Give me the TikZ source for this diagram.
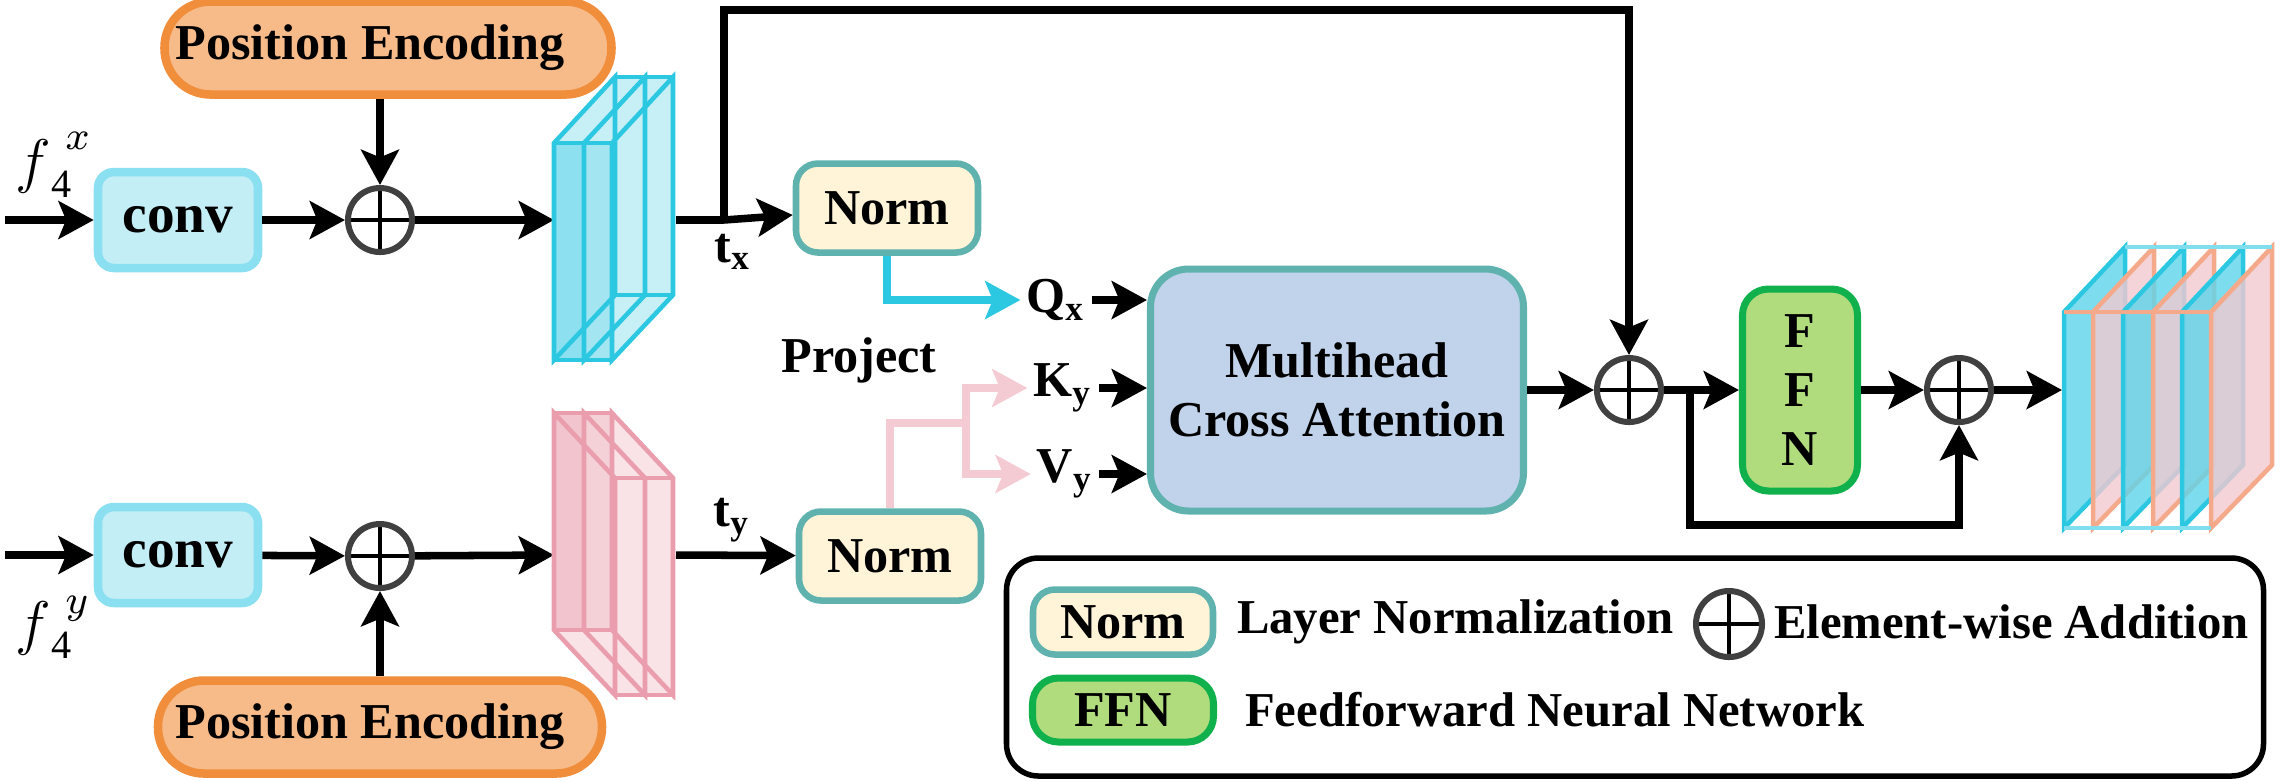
\documentclass[tikz,border=0pt]{standalone}
\usepackage{fontspec}
\setmainfont{Liberation Serif}
\usetikzlibrary{arrows.meta,positioning,calc}

\newcommand{\pxl}{0.07mm}

\definecolor{convfill}{HTML}{C3EEF6}
\definecolor{convline}{HTML}{8ADFF0}
\definecolor{pefill}{HTML}{F7BA89}
\definecolor{peline}{HTML}{F08E3C}
\definecolor{normfill}{HTML}{FFF4D8}
\definecolor{tealline}{HTML}{5FB2AE}
\definecolor{mcafill}{HTML}{C1D2EB}
\definecolor{ffnfill}{HTML}{B0DC7D}
\definecolor{ffnline}{HTML}{10B04C}
\definecolor{cyanline}{HTML}{2CC8E2}
\definecolor{cyandark}{HTML}{8DE0EF}
\definecolor{cyanmid}{HTML}{A3E6F2}
\definecolor{cyanlight}{HTML}{C6EFF6}
\definecolor{pinkline}{HTML}{E99DAD}
\definecolor{pinkdark}{HTML}{F2C5CE}
\definecolor{pinkmid}{HTML}{F4D0D7}
\definecolor{pinklight}{HTML}{F9E3E7}
\definecolor{pinkarrow}{HTML}{F4CBD3}
\definecolor{salmon}{HTML}{F4A98A}
\definecolor{sheetcyan}{HTML}{5DD5EA}
\definecolor{sheetpink}{HTML}{F3C9D0}

\begin{document}
\begin{tikzpicture}[x=0.07mm, y=-0.07mm,
  txt/.style={font=\fontsize{10}{11.8}\selectfont\bfseries, inner sep=1pt},
  legtxt/.style={font=\fontsize{9.7}{11.6}\selectfont\bfseries, inner sep=1pt, anchor=west},
  box/.style={txt, draw, line width=1.4pt, inner sep=0pt, align=center},
  convbox/.style={box, font=\fontsize{11}{13}\selectfont\bfseries, draw=convline, fill=convfill, line width=1.7pt, rounded corners=16*\pxl, minimum width=160*\pxl, minimum height=96*\pxl},
  pebox/.style={box, draw=peline, fill=pefill, line width=1.7pt, rounded corners=46*\pxl, minimum width=447*\pxl, minimum height=93*\pxl},
  normbox/.style={box, draw=tealline, fill=normfill, line width=1.3pt, rounded corners=22*\pxl, minimum width=182*\pxl, minimum height=89*\pxl},
  mcabox/.style={box, draw=tealline, fill=mcafill, rounded corners=38*\pxl, minimum width=373*\pxl, minimum height=242*\pxl},
  ffnbox/.style={box, draw=ffnline, fill=ffnfill, rounded corners=26*\pxl, minimum width=115*\pxl, minimum height=202*\pxl},
  addop/.style={circle, draw=black!75, line width=1.2pt, minimum size=64*\pxl, inner sep=0pt,
    path picture={\draw[black, line width=0.9pt] (path picture bounding box.north) -- (path picture bounding box.south) (path picture bounding box.west) -- (path picture bounding box.east);}},
  arr/.style={line width=1.5pt, -{Stealth[length=7pt, width=7.5pt, inset=1.5pt]}},
  link/.style={line width=1.5pt},
  qarr/.style={cyanline, line width=1.5pt, -{Stealth[length=7pt, width=7.5pt, inset=1.5pt]}},
  parr/.style={pinkarrow, line width=1.5pt, -{Stealth[length=7pt, width=7.5pt, inset=1.5pt]}},
  sheetx/.style={draw=cyanline, line width=0.9pt},
  sheety/.style={draw=pinkline, line width=0.9pt}]
\useasboundingbox (0,0) rectangle (2283,780);

%top branch
\node[convbox] (c1) at (178,220) {conv};
\node[addop] (o1) at (380,220) {};
\node[pebox] (pe1) at (388,48) {Position Encoding\hspace*{2.5mm}};
\node[anchor=base west, inner sep=0pt] (fx) at (14,181)
  {{\fontsize{12.5}{12.5}\selectfont$f$}\kern0.2pt\raisebox{-3.2pt}{\fontsize{8}{8}\selectfont 4}\kern-1.2pt\raisebox{6.2pt}{\fontsize{8}{8}\selectfont$x$}};
\coordinate (inx) at (5,220);
\coordinate (sx-in) at (554,220);
\coordinate (sx-out) at (676,220);
\coordinate (tx) at (724,220);
\coordinate (topline) at (724,10);
\draw[arr] (inx) -- (c1);
\draw[arr] (c1) -- (o1);
\draw[arr] (pe1.south -| o1) -- (o1);
\draw[arr] (o1) -- (sx-in);

%cyan feature stack
\fill[cyanlight] (554,143) -- (615,77) -- (673,77) -- (673,295) -- (612,360) -- (554,360) -- cycle;
\fill[cyandark] (554,143) rectangle (584,360);
\fill[cyanmid] (584,143) rectangle (612,360);
\foreach \a in {554,584,612}
  \draw[sheetx] (\a,143) -- (\a+61,77) -- (\a+61,295) -- (\a,360) -- cycle;
\draw[sheetx] (554,143) -- (612,143) (615,77) -- (673,77) (554,360) -- (612,360) (615,295) -- (673,295);

%bottom branch
\node[convbox] (c2) at (178,555) {conv};
\node[addop] (o2) at (380,556) {};
\node[pebox, minimum width=444*\pxl] (pe2) at (380,727) {Position Encoding\hspace*{1.4mm}};
\node[anchor=base west, inner sep=0pt] (fy) at (14,643)
  {{\fontsize{12.5}{12.5}\selectfont$f$}\kern0.2pt\raisebox{-3pt}{\fontsize{8}{8}\selectfont 4}\kern-1.2pt\raisebox{5.8pt}{\fontsize{8}{8}\selectfont$y$}};
\coordinate (iny) at (5,555);
\coordinate (sy-in) at (554,555);
\coordinate (sy-out) at (676,555);
\draw[arr] (iny) -- (c2);
\draw[arr] (c2) -- (o2);
\draw[arr] (pe2) -- (o2);
\draw[arr] (o2) -- (sy-in);

%pink feature stack
\fill[pinklight] (554,413) -- (612,413) -- (673,478) -- (673,695) -- (615,695) -- (554,630) -- cycle;
\fill[pinkdark] (554,413) rectangle (584,630);
\fill[pinkmid] (584,413) rectangle (612,630);
\foreach \a in {554,584,612}
  \draw[sheety] (\a,413) -- (\a+61,478) -- (\a+61,695) -- (\a,630) -- cycle;
\draw[sheety] (554,413) -- (612,413) (615,478) -- (673,478) (554,630) -- (612,630) (615,695) -- (673,695);

%norm and attention
\node[normbox] (n1) at (887,208) {Norm};
\node[normbox] (n2) at (890,556) {Norm};
\node[txt] (tlx) at (733,252) {t\textsubscript{x}};
\node[txt] (tly) at (732,520) {t\textsubscript{y}};
\node[txt] (proj) at (859,360) {Project};
\node[mcabox] (mca) at (1337,390) {Multihead\\Cross Attention};
\node[txt] (qx) at (1056,300) {Q\textsubscript{x}};
\node[txt] (ky) at (1063,388) {K\textsubscript{y}};
\node[txt] (vy) at (1065,474) {V\textsubscript{y}};
\coordinate (pj) at (966,423);
\draw[link] (sx-out) -- (tx);
\draw[arr] (tx) -- (n1);
\draw[arr] (sy-out) -- (n2);
\draw[qarr] (n1.south) |- (qx.west);
\draw[pinkarrow, line width=1.5pt] (n2.north) |- (pj);
\draw[parr] (pj) |- (ky.west);
\draw[parr] (pj) |- (vy.west);
\draw[arr] (qx.east) -- (qx.east -| mca.west);
\draw[arr] (ky.east) -- (ky.east -| mca.west);
\draw[arr] (vy.east) -- (vy.east -| mca.west);

%residual and FFN
\node[addop] (o3) at (1629,390) {};
\node[ffnbox] (ffn) at (1800,390) {F\\F\\N};
\node[addop] (o4) at (1959,390) {};
\coordinate (br) at (1690,390);
\coordinate (skipbot) at (1690,525);
\coordinate (out-in) at (2062,390);
\draw[arr] (tx) -- (tx |- topline) -| (o3);
\draw[arr] (mca) -- (o3);
\draw[link] (o3) -- (br);
\draw[arr] (br) -- (ffn);
\draw[arr] (br) -- (skipbot) -| (o4);
\draw[arr] (ffn) -- (o4);
\draw[arr] (o4) -- (out-in);

%output stack
\foreach \xa/\col/\edge in {2064/sheetcyan/cyanline, 2093/sheetpink/salmon, 2123/sheetcyan/cyanline, 2153/sheetpink/salmon, 2182/sheetcyan/cyanline, 2211/sheetpink/salmon}
  \filldraw[fill=\col, fill opacity=0.8, draw=\edge, line width=0.9pt] (\xa,312) -- (\xa+61,247) -- (\xa+61,465) -- (\xa,528) -- cycle;
\draw[salmon, line width=0.9pt] (2064,312) -- (2211,312);
\draw[cyanline!60, line width=0.9pt] (2125,247) -- (2272,247) (2064,528) -- (2211,528);

%legend
\node[draw, line width=1.1pt, rounded corners=32*\pxl, minimum width=1257*\pxl, minimum height=218*\pxl] (legend) at (1635,667) {};
\node[normbox, minimum width=180*\pxl, minimum height=65*\pxl] (lnorm) at (1123,622) {Norm};
\node[legtxt] (lnormtxt) at (1231,622) {Layer Normalization};
\node[addop, minimum size=66*\pxl] (ladd) at (1729,624) {};
\node[legtxt] (laddtxt) at (1768,622) {Element-wise Addition};
\node[ffnbox, minimum width=181*\pxl, minimum height=64*\pxl] (lffn) at (1123,710) {FFN};
\node[legtxt] (lffntxt) at (1239,710) {Feedforward Neural Network};
\end{tikzpicture}
\end{document}
